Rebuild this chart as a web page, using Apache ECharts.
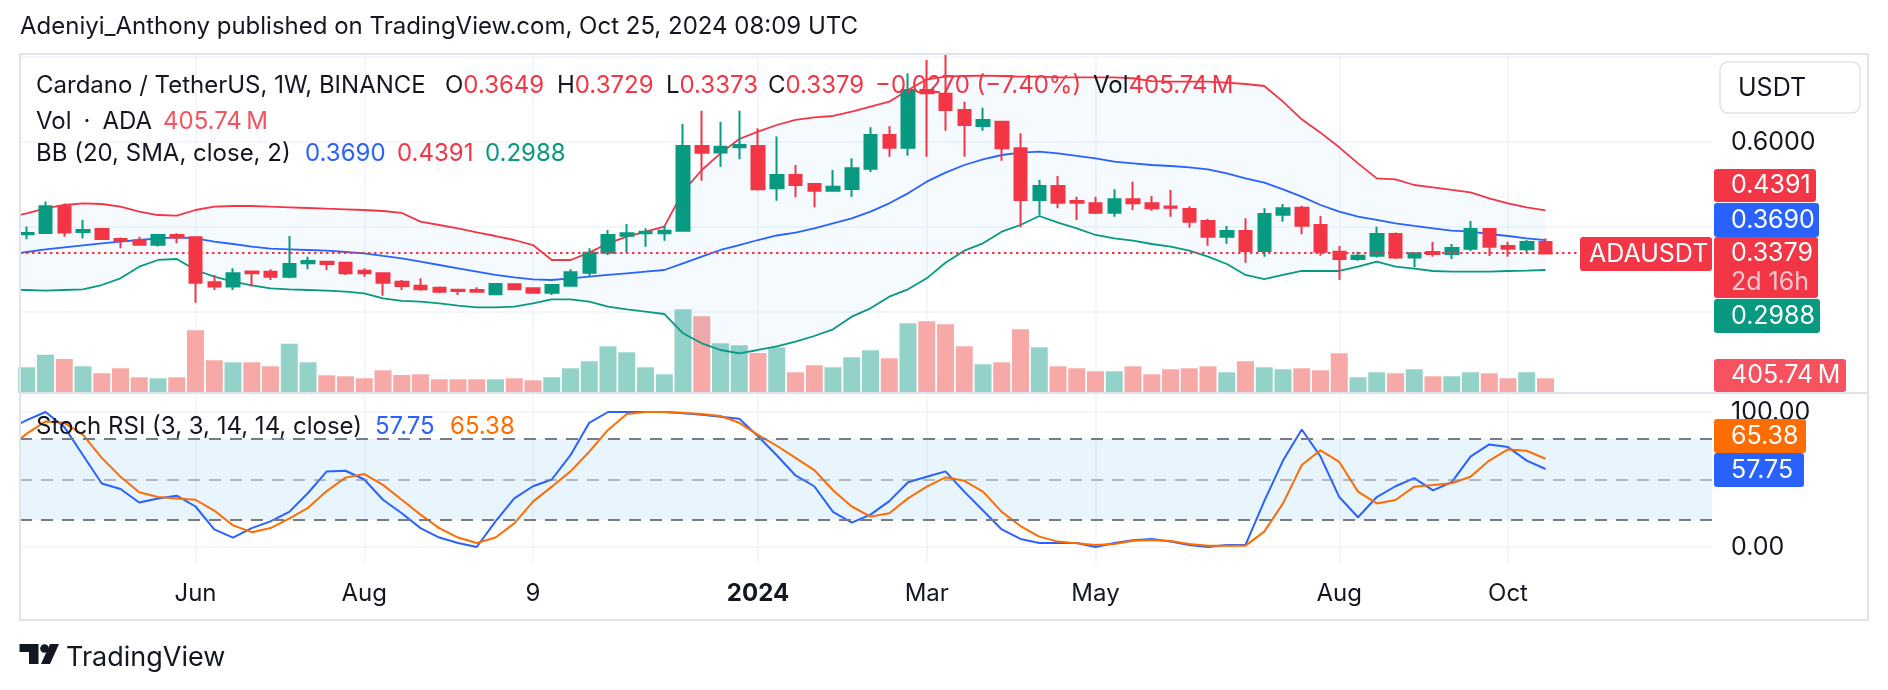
<!DOCTYPE html>
<html>
<head>
<meta charset="utf-8">
<script src="https://cdn.jsdelivr.net/npm/echarts@6.0.0/dist/echarts.min.js"></script>
<style>
html, body { margin: 0; padding: 0; background: #ffffff; }
#chart { width: 1888px; height: 690px; }
</style>
</head>
<body>
<div id="chart"></div>
<script>
// weekly candles, index 0 = week of 3 Apr 2023, index 81 = week of 21 Oct 2024
var opens = [0.383,0.386,0.449,0.388,0.3953,0.372,0.368,0.358,0.381,0.376,
  0.270,0.260,0.2955,0.2949,0.2831,0.3145,0.3184,0.316,0.2973,0.291,
  0.2713,0.262,0.2573,0.2525,0.2518,0.2416,0.2651,0.2557,0.2455,0.262,
  0.2926,0.3396,0.3796,0.3851,0.385,0.3914,0.5906,0.575,0.5875,0.5906,
  0.491,0.5224,0.501,0.4855,0.4894,0.5373,0.6165,0.5867,0.7224,0.7137,
  0.6753,0.6377,0.6478,0.5851,0.4635,0.4965,0.4612,0.4557,0.4337,0.4651,
  0.4557,0.448,0.4424,0.414,0.3772,0.3906,0.3435,0.429,0.4455,0.4047,
  0.3419,0.3247,0.3325,0.3835,0.328,0.3412,0.3365,0.349,0.3953,0.3553,
  0.3475,0.3649];
var highs = [0.401,0.460,0.455,0.4165,0.396,0.375,0.377,0.384,0.385,0.378,
  0.287,0.303,0.2965,0.3004,0.3788,0.3302,0.319,0.317,0.3028,0.292,
  0.2753,0.2792,0.26,0.2534,0.258,0.2667,0.2675,0.2573,0.2659,0.3004,
  0.3498,0.393,0.4071,0.3969,0.4031,0.6424,0.6737,0.6478,0.6737,0.6322,
  0.613,0.5459,0.503,0.5341,0.5616,0.6345,0.6369,0.7616,0.7929,0.8047,
  0.6949,0.6808,0.65,0.6204,0.5106,0.52,0.4714,0.4714,0.4886,0.5067,
  0.473,0.4871,0.449,0.4188,0.4024,0.4204,0.444,0.4541,0.4502,0.4259,
  0.3553,0.3419,0.4008,0.387,0.34,0.3647,0.36,0.4141,0.396,0.3655,
  0.3694,0.3729];
var lows = [0.371,0.384,0.377,0.3734,0.370,0.350,0.356,0.354,0.362,0.222,
  0.252,0.252,0.260,0.2753,0.2792,0.3004,0.2988,0.287,0.2831,0.2384,
  0.2518,0.2502,0.244,0.2401,0.2463,0.241,0.2518,0.244,0.2401,0.26,
  0.2831,0.3341,0.3396,0.3537,0.3678,0.39,0.509,0.5419,0.5592,0.4856,
  0.462,0.4698,0.4463,0.4831,0.4714,0.5294,0.5655,0.5678,0.5655,0.6267,
  0.5655,0.6267,0.556,0.3992,0.4282,0.444,0.4165,0.4306,0.4243,0.44,
  0.4384,0.4243,0.3984,0.356,0.3608,0.316,0.3302,0.4125,0.3828,0.3325,
  0.2753,0.3208,0.328,0.3247,0.3051,0.3302,0.3247,0.3435,0.3318,0.3302,
  0.3396,0.3373];
var closes = [0.386,0.449,0.387,0.393,0.372,0.367,0.358,0.381,0.375,0.269,
  0.260,0.291,0.291,0.2831,0.313,0.320,0.313,0.291,0.291,0.2689,
  0.2612,0.2534,0.2478,0.2494,0.2478,0.2659,0.2534,0.2455,0.2635,0.2934,
  0.3396,0.3812,0.3851,0.389,0.3914,0.5906,0.5749,0.589,0.593,0.4887,
  0.5224,0.4988,0.4855,0.4949,0.5381,0.6165,0.5867,0.7224,0.7145,0.6753,
  0.64,0.6518,0.5851,0.4635,0.4965,0.4573,0.4573,0.4337,0.4651,0.4557,
  0.444,0.445,0.4125,0.3772,0.3906,0.3435,0.4306,0.444,0.4031,0.3419,
  0.3247,0.3325,0.3835,0.328,0.3381,0.3365,0.3506,0.3953,0.3537,0.349,
  0.3649,0.3379];
// volume in millions of ADA
var volumes = [709,1057,938,737,544,682,433,406,433,1731,
  903,847,847,737,1361,847,489,461,406,627,
  497,516,378,378,378,378,406,351,433,682,
  875,1289,1123,709,516,2310,2117,1372,1317,1104,
  1261,571,765,709,985,1179,958,1924,1979,1896,
  1289,792,847,1758,1261,737,682,599,599,737,
  516,654,682,737,571,875,709,654,682,627,
  1096,433,571,544,654,461,461,571,544,406,
  571,405.74];

// indicator lines start one week earlier (index -1)
var lineStart = -1;
var bbUpper = [0.422,
  0.4322,0.444,0.4518,0.4557,0.4541,0.4478,0.436,0.4282,0.4267,0.44,
  0.4478,0.4494,0.4494,0.4478,0.4463,0.4447,0.4431,0.4416,0.44,0.4376,
  0.433,0.4125,0.4047,0.3969,0.3875,0.3788,0.3694,0.3576,0.3224,0.3224,
  0.3396,0.3616,0.3773,0.389,0.4008,0.4831,0.5341,0.5733,0.6071,0.6243,
  0.640,0.6518,0.6581,0.6612,0.6713,0.6831,0.6949,0.7224,0.7475,0.7537,
  0.7553,0.7561,0.7553,0.7537,0.7537,0.7522,0.7522,0.7522,0.7522,0.750,
  0.743,0.7419,0.7419,0.7419,0.7396,0.7365,0.7318,0.6949,0.6533,0.622,
  0.5875,0.5498,0.5145,0.5122,0.4988,0.4933,0.4871,0.4816,0.4675,0.4557,
  0.4463,0.4391];
var bbBasis = [0.334,
  0.3412,0.3475,0.3522,0.3569,0.3616,0.3655,0.3694,0.3733,0.3757,0.3733,
  0.3655,0.36,0.3537,0.349,0.3475,0.3459,0.3443,0.3412,0.338,0.3318,
  0.3263,0.3184,0.3106,0.3028,0.2949,0.2871,0.2816,0.2769,0.2753,0.2792,
  0.2831,0.2871,0.291,0.2949,0.2988,0.3145,0.3302,0.3459,0.3576,0.3694,
  0.380,0.3867,0.3969,0.4086,0.4204,0.436,0.4557,0.4792,0.5067,0.5278,
  0.5459,0.5592,0.5694,0.5749,0.5773,0.5733,0.5671,0.5616,0.5537,0.5498,
  0.5459,0.5435,0.5404,0.5357,0.5263,0.5145,0.5043,0.4886,0.4714,0.4518,
  0.436,0.4243,0.4165,0.4086,0.4024,0.3969,0.3914,0.389,0.3835,0.3788,
  0.3733,0.369];
var bbLower = [0.252,
  0.2518,0.2502,0.2518,0.2534,0.2635,0.2792,0.3067,0.3224,0.3247,0.2988,
  0.2831,0.2714,0.2628,0.2557,0.2534,0.2518,0.2502,0.2478,0.244,0.2322,
  0.226,0.2243,0.2204,0.2149,0.211,0.211,0.2125,0.2204,0.2298,0.2298,
  0.2243,0.2125,0.2063,0.2008,0.1953,0.1499,0.1263,0.1106,0.1028,0.1106,
  0.119,0.1302,0.1435,0.1592,0.189,0.2086,0.236,0.2534,0.2792,0.316,
  0.3443,0.3616,0.389,0.4047,0.4259,0.4102,0.3969,0.3812,0.3733,0.3678,
  0.36,0.3537,0.3443,0.3302,0.3129,0.2871,0.2776,0.2871,0.2965,0.2965,
  0.2965,0.3067,0.3184,0.3067,0.302,0.2965,0.2949,0.2949,0.2949,0.2965,
  0.2973,0.2988];
var stochK = [87,
  94,100,89,68,47,43,33,36,38,30,
  13,7,14,19,26,40,56,56.5,50,35,
  25,14,7,3,0,19,36,45,50,68,
  92,100,100,100,100,99,98,96.5,95,82,
  68,53,45,26,18,24,34,48,52,56,
  41,27,13,6,3,3,3,0,3,5,
  6,4,1.5,0,1.5,1.5,34,64,87,67,
  37,22,37,45,51,42,48,67,76,74,
  64,57.75];
var stochD = [73,
  84,93,92,83,66,52,40.5,37,36,35,
  27,16,11,14,21,29,41.5,51.4,54,46,
  35,24,14,7,3,7,17.5,33.6,44.7,56,
  70.6,86.7,98.5,100,100,99.5,98.5,97,92,83,
  75,66,57,42,30,22.5,25,36,44.7,51.6,
  49,41,26,15.5,7.7,4,2.7,1.5,2.2,4.7,
  5.2,4.4,2.2,1,1,1,11.4,32.3,60.7,71.6,
  63,41,32.3,34.8,44.7,45.9,47.2,52,64,72.3,
  71.3,65.38];

// time axis labels (candle index -> text)
var tickIdx = [9, 18, 27, 39, 48, 57, 70, 79];
var tickText = ['Jun', 'Aug', '9', '2024', 'Mar', 'May', 'Aug', 'Oct'];
var priceGrid = [0.2, 0.4, 0.6, 0.8];
var priceLabels = [0.6];
var lastPrice = 0.3379;

var UP = '#089981', DOWN = '#F23645', BLUE = '#2962FF', ORANGE = '#FF6D00';
var INK = '#131722', GRID = '#F0F3FA', BORDER = '#E0E3EB';
var FONT = 'Inter, "Noto Sans", sans-serif';
var LEG = 24;

var candleData = opens.map(function (o, i) { return [i, o, closes[i], lows[i], highs[i]]; });
var volData = volumes.map(function (v, i) {
    return { value: [i, v], itemStyle: { color: closes[i] >= opens[i] ? '#92D2C8' : '#F7A9A7' } };
});
function linePts(arr) { return arr.map(function (v, k) { return [k + lineStart, v]; }); }

function txt(x, y, text, size, color, weight) {
    return { type: 'text', z: 100, silent: true, style: {
        x: x, y: y, text: text, fill: color, fontSize: size, fontFamily: FONT,
        fontWeight: weight || 'normal', verticalAlign: 'middle' } };
}
function keyVal(x, y, k, v, vColor) {
    return { type: 'text', z: 100, silent: true, style: {
        x: x, y: y, text: '{k|' + k + '}{v|' + v + '}', verticalAlign: 'middle',
        rich: { k: { fill: INK, fontSize: LEG, fontFamily: FONT }, v: { fill: vColor, fontSize: LEG, fontFamily: FONT } } } };
}
function badge(x, y, w, h, color, label, tx, ty) {
    return [
        { type: 'rect', z: 99, silent: true, shape: { x: x, y: y, width: w, height: h, r: 3 }, style: { fill: color } },
        txt(tx || x + 17, ty || y + h / 2, label, 25, '#ffffff')
    ];
}

var graphics = [];
graphics.push({ type: 'rect', z: 98, silent: true, shape: { x: 20, y: 54, width: 1848, height: 566 },
    style: { fill: 'none', stroke: BORDER, lineWidth: 2 } });
graphics.push({ type: 'line', z: 98, silent: true, shape: { x1: 20, y1: 393, x2: 1868, y2: 393 },
    style: { stroke: BORDER, lineWidth: 2 } });
graphics.push(txt(20, 27, 'Adeniyi_Anthony published on TradingView.com, Oct 25, 2024 08:09 UTC', 24, INK));

// legend lines
graphics.push(txt(36, 86, 'Cardano / TetherUS, 1W, BINANCE', LEG, INK));
graphics.push(keyVal(445, 86, 'O', '0.3649', DOWN));
graphics.push(keyVal(557, 86, 'H', '0.3729', DOWN));
graphics.push(keyVal(666, 86, 'L', '0.3373', DOWN));
graphics.push(keyVal(768, 86, 'C', '0.3379', DOWN));
graphics.push(txt(875, 86, '\u22120.0270 (\u22127.40%)', LEG, DOWN));
graphics.push(keyVal(1093, 86, 'Vol', '405.74\u2009M', DOWN));
graphics.push(txt(36, 122, 'Vol\u2002\u00b7\u2002ADA', LEG, INK));
graphics.push(txt(163, 122, '405.74\u2009M', LEG, '#F7525F'));
graphics.push(txt(36, 154, 'BB (20, SMA, close, 2)', LEG, INK));
graphics.push(txt(305, 154, '0.3690', LEG, BLUE));
graphics.push(txt(397, 154, '0.4391', LEG, DOWN));
graphics.push(txt(485, 154, '0.2988', LEG, UP));
graphics.push(txt(36, 427, 'Stoch RSI (3, 3, 14, 14, close)', LEG, INK));
graphics.push(txt(375, 427, '57.75', LEG, BLUE));
graphics.push(txt(450, 427, '65.38', LEG, ORANGE));

// price scale badges
graphics.push({ type: 'rect', z: 99, silent: true, shape: { x: 1720, y: 62, width: 140, height: 51, r: 8 },
    style: { fill: '#ffffff', stroke: BORDER, lineWidth: 1.5 } });
graphics.push(txt(1738, 88, 'USDT', 25, INK));
graphics = graphics.concat(badge(1580, 237, 132, 34, DOWN, 'ADAUSDT', 1589));
graphics = graphics.concat(badge(1714, 169, 102, 33, DOWN, '0.4391'));
graphics = graphics.concat(badge(1714, 203, 105, 34, BLUE, '0.3690'));
graphics = graphics.concat(badge(1714, 237, 104, 61, DOWN, '0.3379', null, 253));
graphics.push(txt(1731, 282, '2d 16h', 25, 'rgba(255,255,255,0.72)'));
graphics = graphics.concat(badge(1714, 299, 106, 34, UP, '0.2988'));
graphics = graphics.concat(badge(1714, 359, 132, 33, '#F7525F', '405.74\u2009M'));
graphics = graphics.concat(badge(1714, 419, 92, 34, ORANGE, '65.38'));
graphics = graphics.concat(badge(1714, 453, 90, 34, BLUE, '57.75'));

// TradingView logo + name
graphics.push({ type: 'polygon', z: 100, silent: true,
    shape: { points: [[19.5, 644], [38.5, 644], [38.5, 664], [29, 664], [29, 652], [19.5, 652]] }, style: { fill: INK } });
graphics.push({ type: 'circle', z: 100, silent: true, shape: { cx: 44.5, cy: 648.5, r: 4.3 }, style: { fill: INK } });
graphics.push({ type: 'polygon', z: 100, silent: true,
    shape: { points: [[50, 644], [59, 644], [50, 664], [41, 664]] }, style: { fill: INK } });
graphics.push(txt(66, 658, 'TradingView', 27, INK));

var X_MIN = -0.36, X_MAX = 89.88;

var option = {
    animation: false,
    backgroundColor: '#ffffff',
    grid: [
        { left: 20, top: 55, width: 1692, height: 338 },
        { left: 20, top: 393, width: 1692, height: 170 }
    ],
    xAxis: [
        { type: 'value', gridIndex: 0, min: X_MIN, max: X_MAX,
          axisLine: { show: false }, axisTick: { show: false, customValues: tickIdx }, axisLabel: { show: false },
          splitLine: { show: true, lineStyle: { color: GRID, width: 1.5 } } },
        { type: 'value', gridIndex: 1, min: X_MIN, max: X_MAX,
          axisLine: { show: false }, axisTick: { show: false, customValues: tickIdx },
          splitLine: { show: true, lineStyle: { color: GRID, width: 1.5 } },
          axisLabel: { show: true, customValues: tickIdx, margin: 19, color: INK, fontSize: 24, fontFamily: FONT,
            formatter: function (v) {
                var t = tickText[tickIdx.indexOf(Math.round(v))];
                return t === '2024' ? '{b|2024}' : t;
            },
            rich: { b: { fontWeight: 'bold', fontSize: 24, fontFamily: FONT, color: INK } } } }
    ],
    yAxis: [
        { type: 'value', gridIndex: 0, position: 'right', min: 0.0094, max: 0.8047,
          axisLine: { show: false }, axisTick: { show: false, customValues: priceGrid },
          axisLabel: { customValues: priceLabels, margin: 19, color: INK, fontSize: 25, fontFamily: FONT,
            formatter: function (v) { return v.toFixed(4); } },
          splitLine: { show: true, lineStyle: { color: GRID, width: 1.5 } } },
        { type: 'value', gridIndex: 0, min: 0, max: 9330, show: false },
        { type: 'value', gridIndex: 1, position: 'right', min: -11.85, max: 114.07,
          axisLine: { show: false }, axisTick: { show: false, customValues: [0, 100] },
          axisLabel: { customValues: [0, 50, 100], margin: 19, color: INK, fontSize: 25, fontFamily: FONT,
            formatter: function (v) { return v.toFixed(2); } },
          splitLine: { show: true, lineStyle: { color: GRID, width: 1.5 } } }
    ],
    series: [
        { name: 'Volume', type: 'bar', xAxisIndex: 0, yAxisIndex: 1, data: volData, barWidth: 17, z: 1, silent: true },
        // band fill between upper and lower Bollinger lines
        { type: 'custom', xAxisIndex: 0, yAxisIndex: 0, data: [[0, 0]], z: 2, silent: true, clip: true,
          renderItem: function (params, api) {
              var pts = [];
              bbUpper.forEach(function (u, k) { pts.push(api.coord([k + lineStart, u])); });
              for (var k = bbLower.length - 1; k >= 0; k--) { pts.push(api.coord([k + lineStart, bbLower[k]])); }
              return { type: 'polygon', shape: { points: pts }, style: { fill: 'rgba(33,150,243,0.05)' } };
          } },
        { name: 'BB Upper', type: 'line', xAxisIndex: 0, yAxisIndex: 0, data: linePts(bbUpper), symbol: 'none',
          lineStyle: { color: DOWN, width: 1.8 }, z: 3, silent: true },
        { name: 'BB Basis', type: 'line', xAxisIndex: 0, yAxisIndex: 0, data: linePts(bbBasis), symbol: 'none',
          lineStyle: { color: BLUE, width: 1.8 }, z: 3, silent: true },
        { name: 'BB Lower', type: 'line', xAxisIndex: 0, yAxisIndex: 0, data: linePts(bbLower), symbol: 'none',
          lineStyle: { color: UP, width: 1.8 }, z: 3, silent: true },
        { name: 'ADAUSDT', type: 'candlestick', xAxisIndex: 0, yAxisIndex: 0, data: candleData, barWidth: 13, z: 4,
          itemStyle: { color: UP, color0: DOWN, borderColor: UP, borderColor0: DOWN, borderWidth: 2 },
          markLine: { silent: true, symbol: ['none', 'none'], label: { show: false },
            lineStyle: { color: DOWN, type: [2.5, 3.5], width: 2 }, data: [{ yAxis: lastPrice }] } },
        { name: 'K', type: 'line', xAxisIndex: 1, yAxisIndex: 2, data: linePts(stochK), symbol: 'none',
          lineStyle: { color: BLUE, width: 2 }, z: 4, silent: true,
          markArea: { silent: true, itemStyle: { color: 'rgba(33,150,243,0.1)' }, data: [[{ yAxis: 20 }, { yAxis: 80 }]] },
          markLine: { silent: true, symbol: ['none', 'none'], label: { show: false },
            lineStyle: { color: '#787B86', type: [12, 9], width: 2 },
            data: [{ yAxis: 80 }, { yAxis: 50, lineStyle: { color: 'rgba(120,123,134,0.5)' } }, { yAxis: 20 }] } },
        { name: 'D', type: 'line', xAxisIndex: 1, yAxisIndex: 2, data: linePts(stochD), symbol: 'none',
          lineStyle: { color: ORANGE, width: 2 }, z: 4, silent: true }
    ],
    graphic: graphics
};

var chart = echarts.init(document.getElementById('chart'));
chart.setOption(option);
</script>
</body>
</html>
